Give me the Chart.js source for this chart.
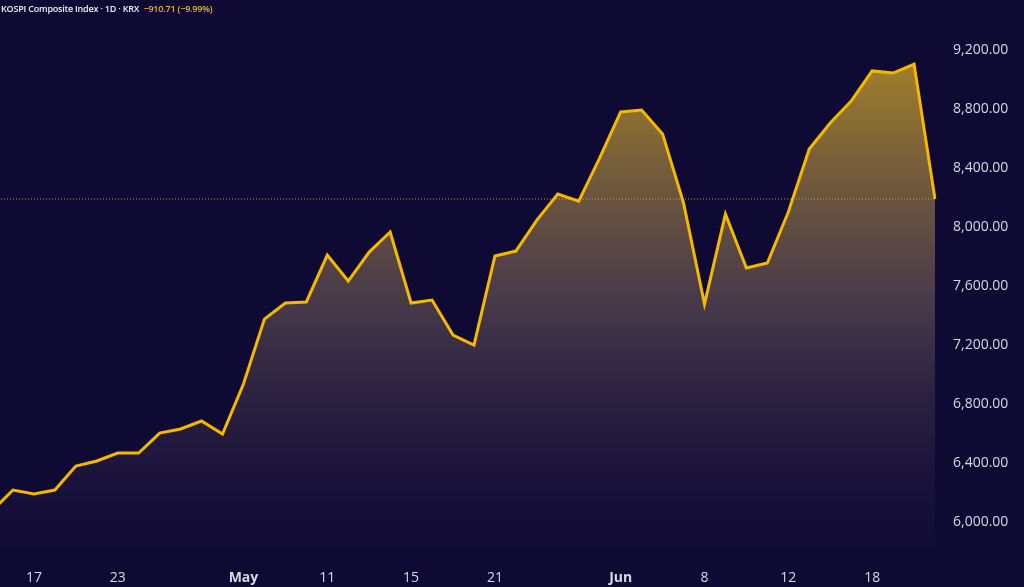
<!DOCTYPE html>
<html><head><meta charset="utf-8">
<script src="https://cdn.jsdelivr.net/npm/chart.js@4"></script>
<style>html,body{margin:0;padding:0;background:#0f0a33;overflow:hidden}#w{position:relative;width:1024px;height:587px;overflow:hidden}
#c{position:absolute;left:-8px;top:0}
#t{position:absolute;left:1px;top:2px;font:600 9px "Open Sans",sans-serif;letter-spacing:-0.2px;color:#f0f0f5;z-index:2;white-space:nowrap}
#t span{color:#f0b429}</style></head><body>
<div id="w"><div id="t">KOSPI Composite Index · 1D · KRX &nbsp;<span>−910.71 (−9.99%)</span></div><canvas id="c" width="1032" height="587"></canvas></div>
<script>
const labels=["","","17","","","","23","","","","","","May","","","","11","","","","15","","","","21","","","","","","Jun","","","","8","","","","12","","","","18","","",""];
const values=[6075,6217,6190,6217,6380,6414,6468,6468,6603,6631,6685,6597,6936,7376,7485,7492,7810,7634,7830,7966,7485,7505,7268,7200,7803,7837,8047,8224,8176,8468,8780,8793,8631,8163,7478,8088,7722,7756,8102,8529,8705,8854,9058,9044,9105,8190];
const yTicks=[6000,6400,6800,7200,7600,8000,8400,8800,9200];
const lastLine={id:'lastLine',afterDatasetsDraw(ch){const y=ch.scales.y.getPixelForValue(values[values.length-1]);const c=ch.ctx;c.save();c.strokeStyle='rgba(245,185,20,0.8)';c.setLineDash([1,2]);c.lineWidth=1;c.beginPath();c.moveTo(ch.chartArea.left,y);c.lineTo(ch.chartArea.right,y);c.stroke();c.restore();}};
const ctx=document.getElementById('c').getContext('2d');
new Chart(ctx,{type:'line',data:{labels,datasets:[{data:values,borderColor:'#f5b800',borderWidth:3,pointRadius:0,tension:0,fill:'start',
backgroundColor:(cx)=>{const a=cx.chart.chartArea;if(!a)return 'rgba(0,0,0,0)';const g=cx.chart.ctx.createLinearGradient(0,a.top+60,0,a.bottom);g.addColorStop(0,'rgba(190,150,40,0.85)');g.addColorStop(0.5,'rgba(110,90,90,0.6)');g.addColorStop(1,'rgba(30,20,70,0.2)');return g;}}]},
options:{responsive:false,animation:false,layout:{padding:0},plugins:{legend:{display:false},tooltip:{enabled:false}},
scales:{x:{offset:false,grid:{display:false},border:{display:false},ticks:{autoSkip:false,maxRotation:0,color:'#d8d8e0',font:{family:'Open Sans',size:14,weight:(c)=>(labels[c.index]==='May'||labels[c.index]==='Jun')?'bold':'normal'},padding:14,callback:(v,i)=>labels[i]},afterFit:s=>{s.height=39;s.paddingLeft=0;s.paddingRight=0;}},
y:{position:'right',min:5824,max:9539,grid:{display:false},border:{display:false},afterBuildTicks:s=>{s.ticks=yTicks.map(v=>({value:v}));},
ticks:{color:'#d8d8e0',font:{family:'Open Sans',size:14},padding:10,callback:v=>v.toLocaleString('en-US',{minimumFractionDigits:2})},afterFit:s=>{s.width=89;s.paddingTop=0;s.paddingBottom=0;}}}},
plugins:[lastLine]});
</script></body></html>
